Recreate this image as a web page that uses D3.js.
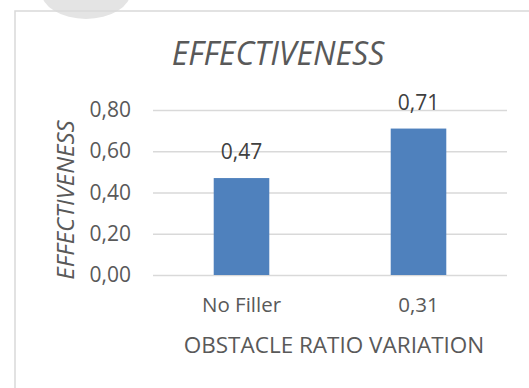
<!DOCTYPE html>
<html>
<head>
<meta charset="utf-8">
<script src="https://cdn.jsdelivr.net/npm/d3@7"></script>
<style>
  body { margin: 0; background: #fff; }
  svg { display: block; font-family: "Open Sans", sans-serif; }
</style>
</head>
<body>
<div id="wrapper"></div>
<script>
// chart data
const categories = ["No Filler", "0,31"]
const values = [0.47, 0.71]
const yTicks = [0, 0.2, 0.4, 0.6, 0.8]
const chartTitle = "EFFECTIVENESS"
const xTitle = "OBSTACLE RATIO VARIATION"
const yTitle = "EFFECTIVENESS"

function drawBars() {
    const dimensions = {
        width: 529,
        height: 388,
        margin: { top: 110, right: 22, bottom: 113, left: 153 },
    }
    dimensions.boundedWidth = dimensions.width - dimensions.margin.left - dimensions.margin.right
    dimensions.boundedHeight = dimensions.height - dimensions.margin.top - dimensions.margin.bottom

    // comma as decimal separator
    const locale = d3.formatLocale({ decimal: ",", thousands: ".", grouping: [3], currency: ["", ""] })
    const fmt = locale.format(".2f")

    const svg = d3.select("#wrapper")
        .append("svg")
            .attr("width", dimensions.width)
            .attr("height", dimensions.height)

    // grey blob at the very top (part of the page behind the chart)
    svg.append("ellipse")
        .attr("cx", 86).attr("cy", -9)
        .attr("rx", 45).attr("ry", 28)
        .attr("fill", "#e4e4e4")

    // chart area border
    svg.append("rect")
        .attr("x", 15).attr("y", 11)
        .attr("width", 540).attr("height", 400)
        .attr("fill", "none")
        .attr("stroke", "#d9d9d9")
        .attr("stroke-width", 1.5)

    const bounds = svg.append("g")
        .attr("transform", `translate(${dimensions.margin.left},${dimensions.margin.top})`)

    const yScale = d3.scaleLinear()
        .domain([0, 0.8])
        .range([dimensions.boundedHeight, 0])

    const xScale = d3.scaleBand()
        .domain(categories)
        .range([0, dimensions.boundedWidth])
        .paddingInner(0.686)
        .paddingOuter(0.343)

    // gridlines + y labels
    const yAxis = bounds.append("g")
        .call(d3.axisLeft(yScale)
            .tickValues(yTicks)
            .tickFormat(fmt)
            .tickSize(-dimensions.boundedWidth)
            .tickPadding(22))
    yAxis.select(".domain").remove()
    yAxis.selectAll("line").attr("stroke", "#d9d9d9").attr("stroke-width", 1.3)
    yAxis.selectAll("text")
        .attr("fill", "#595959")
        .style("font-size", "21px")
        .style("font-family", "'Open Sans', sans-serif")

    // bars
    bounds.selectAll("rect.bar")
        .data(values)
        .enter()
        .append("rect")
            .attr("class", "bar")
            .attr("x", (d, i) => xScale(categories[i]))
            .attr("y", d => yScale(d))
            .attr("width", xScale.bandwidth())
            .attr("height", d => dimensions.boundedHeight - yScale(d))
            .attr("fill", "#4f81bd")

    // value labels
    bounds.selectAll("text.value")
        .data(values)
        .enter()
        .append("text")
            .attr("class", "value")
            .attr("x", (d, i) => xScale(categories[i]) + xScale.bandwidth() / 2)
            .attr("y", d => yScale(d) - 19)
            .attr("text-anchor", "middle")
            .attr("fill", "#404040")
            .style("font-size", "21px")
            .text(d => fmt(d))

    // category labels
    const xAxis = bounds.append("g")
        .attr("transform", `translate(0,${dimensions.boundedHeight})`)
        .call(d3.axisBottom(xScale).tickSize(0).tickPadding(22))
    xAxis.select(".domain").remove()
    xAxis.selectAll("text")
        .attr("fill", "#595959")
        .style("font-size", "20.5px")
        .style("font-family", "'Open Sans', sans-serif")

    // titles
    svg.append("text")
        .attr("x", 278).attr("y", 65)
        .attr("text-anchor", "middle")
        .attr("fill", "#595959")
        .style("font-size", "32px")
        .style("font-style", "italic")
        .text(chartTitle)

    svg.append("text")
        .attr("x", dimensions.margin.left + dimensions.boundedWidth / 2 + 4)
        .attr("y", 353)
        .attr("text-anchor", "middle")
        .attr("fill", "#595959")
        .style("font-size", "22.5px")
        .text(xTitle)

    svg.append("text")
        .attr("transform", "translate(74,200) rotate(-90)")
        .attr("text-anchor", "middle")
        .attr("fill", "#595959")
        .style("font-size", "24px")
        .style("font-style", "italic")
        .text(yTitle)
}

drawBars()
</script>
</body>
</html>
